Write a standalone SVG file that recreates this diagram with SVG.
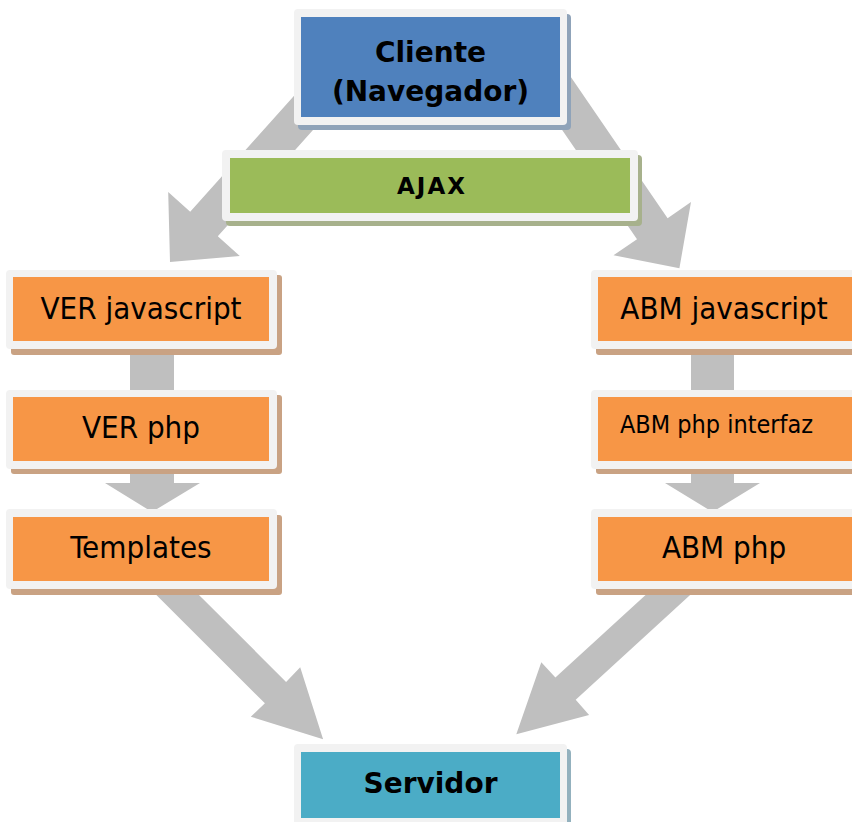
<svg xmlns="http://www.w3.org/2000/svg" width="852" height="822" viewBox="0 0 852 822">
<style>
.arrow{fill:#bfbfbf}
.frame{fill:#f2f2f2}
.org{fill:#f79646}
.oshadow{fill:#c9a283}
.lbl{font-family:"DejaVu Sans Condensed","DejaVu Sans",sans-serif;font-stretch:condensed;font-size:31px;fill:#000;text-anchor:middle}
.bold{font-family:"DejaVu Sans","Liberation Sans",sans-serif;font-weight:bold;font-size:28px;fill:#000;text-anchor:middle}
.ajax{font-family:"DejaVu Sans","Liberation Sans",sans-serif;font-weight:bold;font-size:23px;letter-spacing:2px;fill:#000;text-anchor:middle}
</style>
<rect width="852" height="822" fill="#ffffff"/>
<g id="connectors">
  <polygon class="arrow" points="310.2,77.7 190.2,211.7 168.2,192 170,262 239.8,256 217.8,236.3 337.8,102.3"/>
  <polygon class="arrow" points="524,74.2 637,239.2 613.5,255.2 679.4,268.3 691,202 667.6,218.2 554.6,53.2"/>
  <rect class="arrow" x="130" y="340" width="44" height="60"/>
  <polygon class="arrow" points="130,460 130,483 105,483 152,512 200,483 174,483 174,460"/>
  <rect class="arrow" x="691" y="340" width="43" height="60"/>
  <polygon class="arrow" points="691,460 691,483 665,483 712.5,512 760,483 734,483 734,460"/>
  <polygon class="arrow" points="137.1,575.8 264.9,703.3 250.8,716.7 323.1,739.2 300.2,667.2 286.1,681.9 158.3,554.4"/>
  <polygon class="arrow" points="688.2,556.1 555.4,677.6 541.3,662.3 516.3,734.2 589.1,715.1 575.7,699.8 708.4,578.3"/>
</g>
<g id="cliente">
  <rect x="298" y="14" width="273" height="116" rx="4" fill="#8fa3b9"/>
  <rect class="frame" x="294" y="9" width="273" height="116" rx="4"/>
  <rect x="301" y="17" width="259" height="100" fill="#4f81bd"/>
  <text class="bold" x="430.5" y="62">Cliente</text>
  <text class="bold" x="430.5" y="101">(Navegador)</text>
</g>
<g id="ajax">
  <rect x="226" y="155" width="416" height="71" rx="4" fill="#a7b18c"/>
  <rect class="frame" x="222" y="150" width="416" height="71" rx="4"/>
  <rect x="230" y="158" width="400" height="55" fill="#9bbb59"/>
  <text class="ajax" x="432" y="194">AJAX</text>
</g>
<g id="ver-javascript">
  <rect class="oshadow" x="11" y="275" width="271" height="80" rx="3"/>
  <rect class="frame" x="6" y="270" width="271" height="79" rx="4"/>
  <rect class="org" x="13" y="277" width="256" height="64"/>
  <text class="lbl" x="141" y="319">VER javascript</text>
</g>
<g id="ver-php">
  <rect class="oshadow" x="11" y="395" width="271" height="79" rx="3"/>
  <rect class="frame" x="6" y="390" width="271" height="79" rx="4"/>
  <rect class="org" x="13" y="397" width="256" height="64"/>
  <text class="lbl" x="141" y="438">VER php</text>
</g>
<g id="templates">
  <rect class="oshadow" x="11" y="515" width="271" height="80" rx="3"/>
  <rect class="frame" x="6" y="509" width="271" height="80" rx="4"/>
  <rect class="org" x="13" y="517" width="256" height="64"/>
  <text class="lbl" x="141" y="558">Templates</text>
</g>
<g id="abm-javascript">
  <rect class="oshadow" x="596" y="275" width="271" height="80" rx="3"/>
  <rect class="frame" x="591" y="270" width="271" height="79" rx="4"/>
  <rect class="org" x="598" y="277" width="256" height="64"/>
  <text class="lbl" x="724" y="319">ABM javascript</text>
</g>
<g id="abm-php-interfaz">
  <rect class="oshadow" x="596" y="395" width="271" height="79" rx="3"/>
  <rect class="frame" x="591" y="390" width="271" height="79" rx="4"/>
  <rect class="org" x="598" y="397" width="256" height="64"/>
  <text class="lbl" x="716.5" y="433" style="font-size:25px">ABM php interfaz</text>
</g>
<g id="abm-php">
  <rect class="oshadow" x="596" y="515" width="271" height="80" rx="3"/>
  <rect class="frame" x="591" y="509" width="271" height="80" rx="4"/>
  <rect class="org" x="598" y="517" width="256" height="64"/>
  <text class="lbl" x="724" y="558">ABM php</text>
</g>
<g id="servidor">
  <rect x="298" y="749" width="273" height="85" rx="4" fill="#93b1be"/>
  <rect class="frame" x="294" y="744" width="273" height="85" rx="4"/>
  <rect x="301" y="752" width="259" height="66" fill="#4bacc6"/>
  <text class="bold" x="430.5" y="793">Servidor</text>
</g>
</svg>
